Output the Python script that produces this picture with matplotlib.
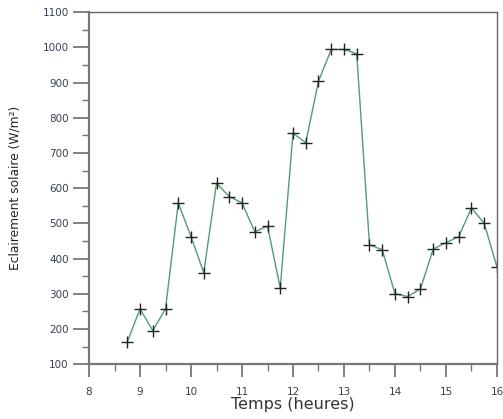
import numpy as np
import matplotlib
matplotlib.use('Agg')
import matplotlib.pyplot as plt
from matplotlib.ticker import MultipleLocator

# heures (pas de 15 min)
heures = [8.75, 9.0, 9.25, 9.5, 9.75, 10.0, 10.25, 10.5, 10.75, 11.0,
          11.25, 11.5, 11.75, 12.0, 12.25, 12.5, 12.75, 13.0, 13.25, 13.5,
          13.75, 14.0, 14.25, 14.5, 14.75, 15.0, 15.25, 15.5, 15.75, 16.0]
# éclairement solaire (W/m²)
eclairement = [163, 257, 195, 257, 558, 462, 360, 614, 576, 558,
               476, 492, 317, 756, 729, 904, 994, 994, 982, 439,
               425, 300, 292, 314, 427, 445, 462, 544, 500, 376]

fig = plt.figure(figsize=(5.03, 4.19), dpi=100)
ax = fig.add_axes([0.177, 0.131, 0.811, 0.840])

ax.plot(heures, eclairement, color='#529c74', linewidth=1.0,
        marker='+', markersize=8, markeredgecolor='#222222',
        markeredgewidth=1.0)

ax.set_xlim(8, 16)
ax.set_ylim(100, 1100)
ax.xaxis.set_major_locator(MultipleLocator(1))
ax.xaxis.set_minor_locator(MultipleLocator(0.5))
ax.yaxis.set_major_locator(MultipleLocator(100))
ax.yaxis.set_minor_locator(MultipleLocator(50))

# axes gris, graduations vers l'extérieur
for s in ['left', 'bottom']:
    ax.spines[s].set_color('#777777')
    ax.spines[s].set_linewidth(1.6)
for s in ['top', 'right']:
    ax.spines[s].set_color('#666666')
    ax.spines[s].set_linewidth(1.0)

ax.tick_params(which='major', direction='out', width=1.3,
               color='#777777', labelsize=7.5, labelcolor='#3a3f55')
ax.tick_params(axis='y', which='major', length=11.5, pad=3)
ax.tick_params(axis='x', which='major', length=9.5, pad=7)
ax.tick_params(which='minor', direction='out', length=5, width=1.0,
               color='#777777')

ax.set_xlabel('Temps (heures)', fontsize=11.5, color='#333333', labelpad=0)
ax.set_ylabel('Eclairement solaire (W/m²)', fontsize=8.8, color='#222233')
ax.yaxis.set_label_coords(-0.165, 0.5)

fig.savefig('out.png', dpi=100)
